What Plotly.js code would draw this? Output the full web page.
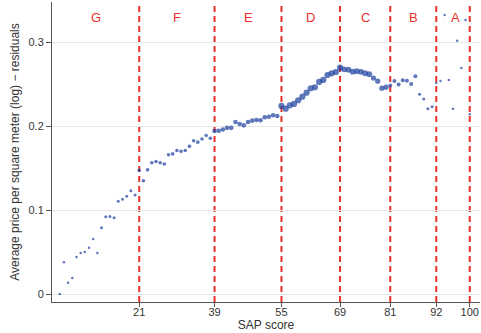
<!DOCTYPE html>
<html>
<head>
<meta charset="utf-8">
<script src="https://cdn.plot.ly/plotly-3.0.1.min.js"></script>
<style>html,body{margin:0;padding:0;background:#fff;}#chart{width:481px;height:333px;}</style>
</head>
<body>
<div id="chart"></div>
<script>
// SAP score (x) and residual log price per m2 (y)
const sapScore = [];
for (let s = 2; s <= 100; s++) sapScore.push(s);
const residual = [
  0.000, 0.038, 0.0135, 0.019, 0.044, 0.049, 0.050, 0.055, 0.0655, 0.049,
  0.079, 0.092, 0.0925, 0.091, 0.1105, 0.113, 0.1165, 0.123, 0.118, 0.1475,
  0.135, 0.148, 0.1565, 0.158, 0.1565, 0.155, 0.166, 0.167, 0.171, 0.170,
  0.171, 0.176, 0.1827, 0.181, 0.1847, 0.189, 0.1856, 0.1943, 0.1946, 0.196,
  0.198, 0.198, 0.205, 0.2026, 0.201, 0.205, 0.2066, 0.2074, 0.207, 0.2106,
  0.2113, 0.213, 0.2122, 0.2241, 0.2209, 0.2249, 0.2265, 0.2309, 0.2352, 0.2399,
  0.2452, 0.2464, 0.2527, 0.2551, 0.261, 0.263, 0.2646, 0.2697, 0.2678, 0.2673,
  0.265, 0.2656, 0.2648, 0.2631, 0.2619, 0.2574, 0.2536, 0.2453, 0.2465, 0.2485,
  0.2539, 0.2497, 0.2547, 0.2541, 0.2503, 0.2595, 0.238, 0.2324, 0.2209, 0.2232,
  0.2515, 0.2539, 0.3325, 0.2551, 0.2209, 0.3019, 0.2694, 0.3266, 0.2142
];
// band cut points and names (EPC bands)
const bandCuts = [21, 39, 55, 69, 81, 92, 100];
const bandNames = ['G', 'F', 'E', 'D', 'C', 'B', 'A'];
const xTickVals = [21, 39, 55, 69, 81, 92, 100];
const xTickText = ['21', '39', '55', '69', '81', '92', '100'];
const yTickVals = [0, 0.1, 0.2, 0.3];
const yTickText = ['0', '0.1', '0.2', '0.3'];

// marker diameter (style), by SAP score
const markerSizes = sapScore.map(s => {
  if (s <= 11) return 2.5;
  if (s <= 20) return 3;
  if (s <= 38) return 3.6;
  if (s <= 54) return 4.6;
  if (s <= 69) return 6.2;
  if (s <= 76) return 5.8;
  if (s <= 80) return 5.2;
  if (s <= 87) return 4;
  if (s <= 91) return 3;
  return 2.5;
});

const xRange = [0.15, 102.45];
const yRange = [-0.0095, 0.348];
const red = '#e8302a';

const shapes = bandCuts.map(c => ({
  type: 'line', xref: 'x', yref: 'paper', x0: c, x1: c, y0: 0, y1: 1,
  line: {color: red, width: 2, dash: '6px,4px'}, layer: 'below'
}));
const bounds = [xRange[0]].concat(bandCuts);
bounds[bounds.length - 1] = 101.4;
const annotations = bandNames.map((n, i) => ({
  x: (bounds[i] + bounds[i + 1]) / 2, y: 0.33, xref: 'x', yref: 'y',
  text: n, showarrow: false, font: {family: 'Liberation Sans, Arial, sans-serif', size: 13, color: red}
}));

const trace = {
  x: sapScore, y: residual, type: 'scatter', mode: 'markers',
  marker: {size: markerSizes, color: '#1a3f9e', line: {width: 0}},
  hoverinfo: 'skip', cliponaxis: false
};

const font = {family: 'Liberation Sans, Arial, sans-serif', size: 11, color: '#333'};
const layout = {
  width: 481, height: 333,
  margin: {l: 52, r: 1, t: 2, b: 31, pad: 0},
  paper_bgcolor: '#fff', plot_bgcolor: '#fff',
  showlegend: false,
  font: font,
  xaxis: {
    range: xRange, showline: true, linecolor: '#555', linewidth: 1,
    ticks: 'outside', ticklen: 4, tickcolor: '#555', tickwidth: 1,
    tickvals: xTickVals, ticktext: xTickText, tickfont: font, ticklabelstandoff: -4,
    showgrid: false, zeroline: false, automargin: false,
    title: {text: 'SAP score', font: {family: 'Liberation Sans, Arial, sans-serif', size: 12, color: '#333'}, standoff: 2}
  },
  yaxis: {
    range: yRange, showline: true, linecolor: '#555', linewidth: 1,
    ticks: 'outside', ticklen: 5, tickcolor: '#555', tickwidth: 1,
    tickvals: yTickVals, ticktext: yTickText, tickfont: font,
    showgrid: true, gridcolor: '#e6e6e6', gridwidth: 1, zeroline: false, automargin: false,
    title: {text: 'Average price per square meter (log) − residuals', font: {family: 'Liberation Sans, Arial, sans-serif', size: 12, color: '#333'}, standoff: 6}
  },
  shapes: shapes,
  annotations: annotations
};
Plotly.newPlot('chart', [trace], layout, {staticPlot: true, displayModeBar: false});
</script>
</body>
</html>
